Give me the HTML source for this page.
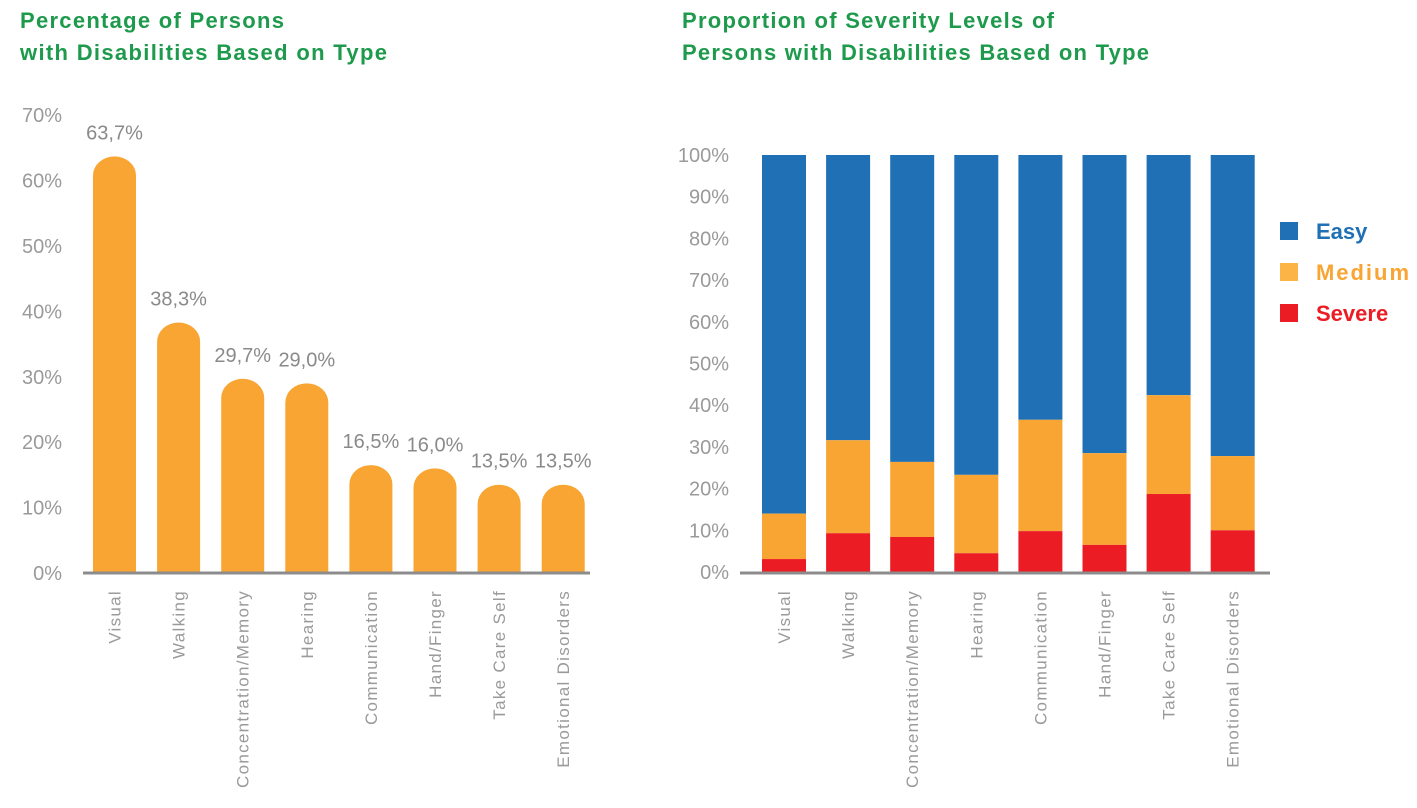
<!DOCTYPE html>
<html><head><meta charset="utf-8"><style>
body{margin:0;background:#fff;width:1417px;height:808px;overflow:hidden;font-family:"Liberation Sans",sans-serif}
svg{position:absolute;left:0;top:0}
</style></head><body>
<svg width="1417" height="808">
<g id="titles" font-weight="bold" font-size="22" fill="#1e9a4c">
<text x="20" y="28" textLength="264" lengthAdjust="spacing">Percentage of Persons</text>
<text x="20" y="60" textLength="367" lengthAdjust="spacing">with Disabilities Based on Type</text>
<text x="682" y="28" textLength="372" lengthAdjust="spacing">Proportion of Severity Levels of</text>
<text x="682" y="60" textLength="467" lengthAdjust="spacing">Persons with Disabilities Based on Type</text>
</g>
<g id="left"></g><g id="right"></g>
<g id="legend" font-weight="bold" font-size="22">
<rect x="1280" y="222" width="18" height="18" fill="#1f70b5"/>
<text x="1316" y="239" fill="#1f70b5">Easy</text>
<rect x="1280" y="263" width="18" height="18" fill="#fbb445"/>
<text x="1316" y="280" fill="#f8a533" textLength="93" lengthAdjust="spacing">Medium</text>
<rect x="1280" y="304" width="18" height="18" fill="#ec1c24"/>
<text x="1316" y="321" fill="#ec1c24">Severe</text>
</g>
</svg>
<script>
const categories=["Visual","Walking","Concentration/Memory","Hearing","Communication","Hand/Finger","Take Care Self","Emotional Disorders"];
const percentValues=[63.7,38.3,29.7,29.0,16.5,16.0,13.5,13.5];
const percentLabels=["63,7%","38,3%","29,7%","29,0%","16,5%","16,0%","13,5%","13,5%"];
const leftTicks=[0,10,20,30,40,50,60,70];
const severeValues=[3.1,9.3,8.4,4.5,9.8,6.5,18.7,10.0];
const mediumValues=[10.9,22.3,18.0,18.8,26.7,22.0,23.7,17.8];
const rightTicks=[0,10,20,30,40,50,60,70,80,90,100];
const NS="http://www.w3.org/2000/svg";
function mk(p,t,a,txt){const e=document.createElementNS(NS,t);for(const k in a)e.setAttribute(k,a[k]);if(txt!==undefined)e.textContent=txt;p.appendChild(e);return e;}
// left chart
const L=document.getElementById('left');
const ly=v=>573-v*6.54, lx=i=>93+i*64.1, bw=43;
leftTicks.forEach(t=>{const e=mk(L,'text',{x:62,y:ly(t)+7,'text-anchor':'end','font-size':20,fill:'#9a9a9a'},t+'%');

});
percentValues.forEach((v,i)=>{const x=lx(i),y=ly(v),r=19,b=ly(0);
const p=mk(L,'path',{d:`M${x},${b}V${y+r}A${bw/2},${r} 0 0 1 ${x+bw},${y+r}V${b}Z`,fill:'#f8a533'});


const t=mk(L,'text',{x:x+bw/2,y:y-17,'text-anchor':'middle','font-size':20,fill:'#8a8a8a'},percentLabels[i]);


const c=mk(L,'text',{transform:`translate(${x+bw/2+6},590) rotate(-90)`,'text-anchor':'end','font-size':17,'letter-spacing':'1.3',fill:'#9a9a9a'},categories[i]);

});
const la=mk(L,'line',{x1:83,x2:590,y1:573,y2:573,stroke:'#8c8c8c','stroke-width':3});


// right chart
const R=document.getElementById('right');
const ry=v=>572-v*4.17, rx=i=>762+i*64.1, rw=44;
rightTicks.forEach(t=>{const e=mk(R,'text',{x:729,y:ry(t)+7,'text-anchor':'end','font-size':20,fill:'#9a9a9a'},t+'%');

});
categories.forEach((c,i)=>{const x=rx(i),s=severeValues[i],m=mediumValues[i];
const e1=mk(R,'rect',{x:x,y:ry(100),width:rw,height:ry(s+m)-ry(100),fill:'#1f70b5'});


const e2=mk(R,'rect',{x:x,y:ry(s+m),width:rw,height:ry(s)-ry(s+m),fill:'#f8a533'});


const e3=mk(R,'rect',{x:x,y:ry(s),width:rw,height:ry(0)-ry(s),fill:'#ec1c24'});


const t=mk(R,'text',{transform:`translate(${x+rw/2+6},590) rotate(-90)`,'text-anchor':'end','font-size':17,'letter-spacing':'1.3',fill:'#9a9a9a'},c);

});
const ra=mk(R,'line',{x1:740,x2:1270,y1:573,y2:573,stroke:'#8c8c8c','stroke-width':3});


</script>
</body></html>
